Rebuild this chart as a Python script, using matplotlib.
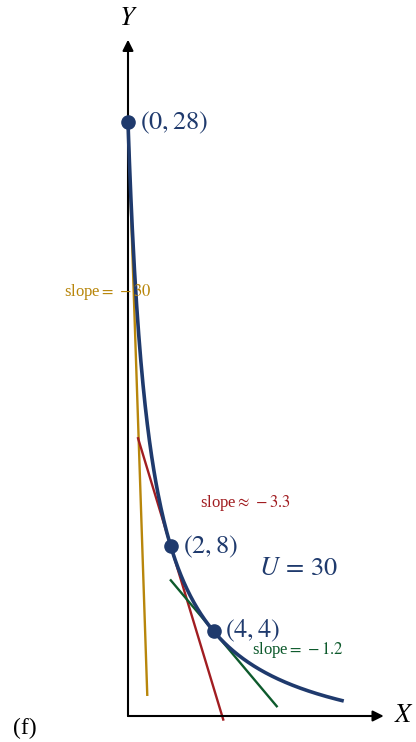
import numpy as np
import matplotlib
matplotlib.use("Agg")
import matplotlib.pyplot as plt

plt.rcParams['font.family'] = ['Liberation Serif', 'DejaVu Serif']
plt.rcParams['mathtext.fontset'] = 'stix'

# indifference curve (x+1)(y+2) = U
U = 30
curve_x = np.linspace(0, 10, 300)
points_x = [0, 2, 4]
points_y = [28, 8, 4]
point_labels = ["$(0, 28)$", "$(2, 8)$", "$(4, 4)$"]
slopes = [-30, -10 / 3, -1.2]
tangent_ranges = [(0, 0.9), (0.47, 4.45), (2.0, 6.95)]
slope_labels = [r"slope$=\,-30$", r"slope$\approx\,-3.3$", r"slope$=\,-1.2$"]
slope_colors = ["#b8860b", "#a11d21", "#0d5a2c"]
slope_label_pos = [(-0.93, 20.0), (5.47, 10.05), (7.94, 3.1)]
blue = "#1f3a6d"


def curve(x):
    return U / (x + 1) - 2


fig = plt.figure(figsize=(4.16, 7.42), dpi=100)
ax = fig.add_axes([0, 0, 1, 1])
ax.set_xlim(-128 / 21.4, (416 - 128) / 21.4)
ax.set_ylim(-26 / 21.2, 716 / 21.2)
ax.axis('off')

# axes arrows
ax.annotate("", xy=(11.95, 0), xytext=(0, 0),
            arrowprops=dict(arrowstyle='-|>', color='black', lw=1.5,
                            mutation_scale=16, shrinkA=0, shrinkB=0))
ax.annotate("", xy=(0, 31.9), xytext=(0, 0),
            arrowprops=dict(arrowstyle='-|>', color='black', lw=1.5,
                            mutation_scale=16, shrinkA=0, shrinkB=0))
ax.text(12.9, 0, "$X$", fontsize=19, ha='center', va='center')
ax.text(0, 32.9, "$Y$", fontsize=19, ha='center', va='center')
ax.text(-4.8, -0.6, "(f)", fontsize=17, ha='center', va='center')

# tangent lines
for (x0, x1), s, px, py, c in zip(tangent_ranges, slopes, points_x, points_y, slope_colors):
    tx = np.array([x0, x1])
    ax.plot(tx, py + s * (tx - px), color=c, lw=1.7, zorder=2)

# curve
ax.plot(curve_x, curve(curve_x), color=blue, lw=2.6, zorder=3)

# points
ax.scatter(points_x, points_y, s=90, color=blue, zorder=4)
for px, py, lab in zip(points_x, points_y, point_labels):
    ax.text(px + 0.55, py, lab, fontsize=19, color=blue, ha='left', va='center')

for (lx, ly), lab, c in zip(slope_label_pos, slope_labels, slope_colors):
    ax.text(lx, ly, lab, fontsize=12, color=c, ha='center', va='center')

ax.text(7.94, 6.95, r"$U\,=\,30$", fontsize=19, color=blue, ha='center', va='center')

fig.savefig("out.png", dpi=100)
